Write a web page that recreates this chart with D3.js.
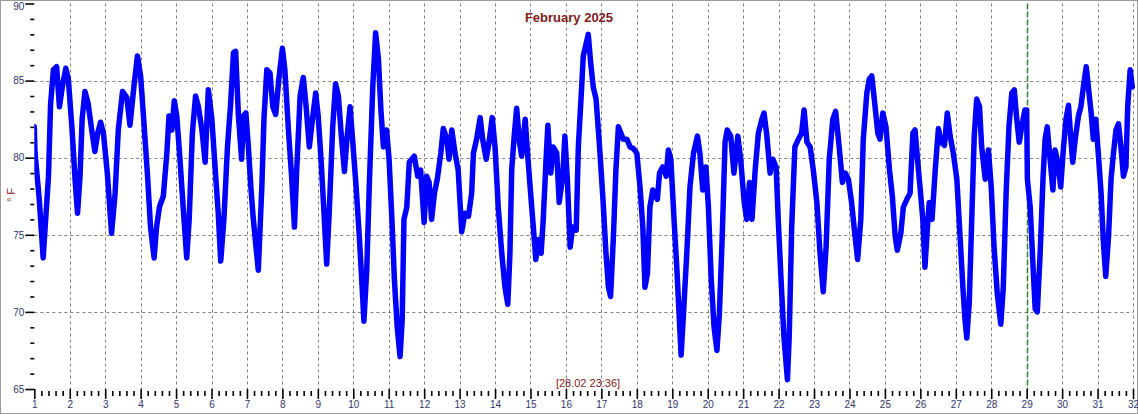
<!DOCTYPE html>
<html><head><meta charset="utf-8">
<script src="https://cdn.jsdelivr.net/npm/d3@7"></script>
<style>
html,body{margin:0;padding:0;background:#fff;}
svg{display:block;font-family:"Liberation Sans",Arial,sans-serif;}
</style></head>
<body>
<svg id="chart" width="1138" height="414"></svg>
<script>
const title = "February 2025";
const yLabel = "° F";
const stampLabel = "[28.02 23:36]";
const markerDay = 29;
const xTickDays = d3.range(1, 33);
const yTickValues = [65, 70, 75, 80, 85, 90];

const days = [
 1.00,1.02,1.14,1.25,1.40,1.46,1.54,1.63,1.71,1.79,1.89,1.96,2.06,2.15,2.22,2.29,2.35,2.43,2.52,2.62,2.71,2.79,2.87,2.95,3.06,3.18,3.28,3.37,3.49,3.61,3.70,3.81,3.91,4.00,4.08,4.19,4.28,4.38,4.45,4.53,4.64,4.74,4.80,4.88,4.95,5.02,5.11,5.20,5.30,5.37,5.46,5.55,5.63,5.73,5.82,5.91,6.01,6.10,6.19,6.26,6.35,6.45,6.54,6.62,6.68,6.76,6.85,6.90,6.97,7.04,7.11,
 7.18,7.32,7.42,7.48,7.56,7.65,7.73,7.81,7.90,8.00,8.07,8.17,8.26,8.34,8.40,8.50,8.59,8.67,8.76,8.86,8.94,9.01,9.09,9.17,9.25,9.32,9.42,9.50,9.58,9.65,9.75,9.82,9.91,9.98,10.08,10.17,10.25,10.30,10.38,10.45,10.55,10.63,10.71,10.78,10.85,10.94,11.01,11.09,11.16,11.24,11.32,11.38,11.43,11.51,11.58,11.65,11.72,11.82,11.90,12.00,12.07,12.14,12.21,12.29,12.37,12.47,12.54,12.64,12.70,12.78,12.87,12.96,13.06,13.15,13.25,13.34,
 13.39,13.48,13.58,13.65,13.75,13.83,13.92,14.00,14.09,14.19,14.28,14.36,14.42,14.47,14.54,14.61,14.69,14.75,14.85,14.91,14.99,15.08,15.15,15.22,15.30,15.36,15.44,15.49,15.57,15.64,15.74,15.81,15.91,15.97,16.04,16.12,16.19,16.29,16.35,16.43,16.49,16.57,16.63,16.70,16.77,16.85,16.94,17.04,17.13,17.20,17.26,17.34,17.41,17.48,17.55,17.62,17.72,17.81,17.90,18.00,18.09,18.17,18.23,18.30,18.37,18.45,18.51,18.58,18.64,18.73,18.83,18.89,18.96,19.05,19.13,19.19,19.25,19.31,19.41,19.50,
 19.60,19.71,19.78,19.86,19.95,20.02,20.10,20.18,20.26,20.33,20.41,20.49,20.55,20.65,20.74,20.85,20.93,21.03,21.10,21.18,21.25,21.34,21.43,21.53,21.59,21.67,21.76,21.84,21.93,21.99,22.07,22.15,22.25,22.30,22.37,22.46,22.56,22.65,22.72,22.80,22.89,22.98,23.08,23.17,23.26,23.34,23.43,23.53,23.61,23.71,23.80,23.88,23.97,24.06,24.14,24.23,24.32,24.39,24.49,24.56,24.63,24.70,24.80,24.86,24.94,25.03,25.13,25.21,25.29,25.35,25.45,25.52,25.62,25.71,25.79,
 25.85,25.92,25.99,26.07,26.13,26.20,26.25,26.33,26.42,26.51,26.58,26.68,26.76,26.84,26.93,27.03,27.12,27.20,27.26,27.31,27.38,27.45,27.52,27.59,27.67,27.73,27.83,27.92,28.00,28.08,28.17,28.27,28.34,28.42,28.50,28.58,28.65,28.72,28.79,28.86,28.95,29.00,29.02,29.10,29.17,29.24,29.30,29.38,29.46,29.52,29.58,29.66,29.74,29.80,29.88,29.96,30.04,30.11,30.18,30.24,30.30,30.37,30.46,30.53,30.60,30.68,30.74,30.82,30.88,30.95,31.02,31.10,31.16,31.23,31.31,31.38,31.45,31.52,31.59,31.66,31.73,31.80,31.85,31.92,31.98
];
const tempF = [
 82.0,80.3,77.3,73.5,78.8,83.5,85.7,85.9,83.3,84.6,85.8,85.1,82.0,78.6,76.4,78.8,82.5,84.3,83.5,81.8,80.4,81.6,82.3,81.6,79.0,75.1,77.7,81.8,84.3,83.9,82.1,84.6,86.6,85.3,82.7,79.0,75.5,73.5,75.5,76.8,77.5,80.3,82.7,81.8,83.7,82.7,79.9,76.8,73.5,76.0,81.6,84.0,83.3,81.8,79.7,84.4,82.5,79.4,76.4,73.3,76.0,80.7,83.5,86.8,86.9,82.7,79.9,82.7,82.9,80.7,78.1,
 76.0,72.7,78.1,82.5,85.7,85.5,83.3,82.8,85.1,87.1,85.7,81.8,78.8,75.5,79.0,84.0,85.2,83.3,80.7,82.7,84.2,82.7,79.9,76.6,73.1,76.4,82.0,84.8,84.0,81.8,79.1,81.2,83.3,81.2,78.1,74.9,71.6,69.4,72.7,78.1,84.6,88.1,86.4,83.1,80.7,81.8,79.9,76.0,72.1,69.0,67.1,69.5,76.0,76.8,79.7,79.9,80.1,78.8,79.2,75.8,78.8,78.4,76.0,77.7,78.6,80.3,81.9,81.2,79.9,81.8,80.3,79.2,75.2,76.4,76.2,77.7,
 80.3,81.2,82.6,81.2,79.9,81.0,82.6,80.7,76.8,73.8,71.6,70.5,73.8,79.2,81.4,83.2,81.0,80.1,82.5,80.5,78.1,75.5,73.4,74.7,73.8,76.0,79.9,82.1,79.0,80.7,80.3,77.1,78.8,81.4,78.6,74.2,75.5,75.3,80.7,84.0,86.6,87.4,88.0,86.1,84.6,83.8,81.0,77.5,73.8,71.6,71.0,74.9,79.2,82.0,81.6,81.2,81.2,80.7,80.6,80.3,78.1,75.5,71.6,72.5,76.8,77.9,77.6,77.3,79.0,79.4,78.8,80.5,79.9,76.0,72.8,70.0,67.2,69.6,73.8,78.1,
 80.3,81.4,80.3,77.9,79.4,76.8,72.1,69.0,67.5,69.9,74.9,81.0,81.8,81.4,79.0,81.4,79.9,77.1,76.0,78.4,76.0,79.2,81.6,82.5,82.9,81.4,79.0,79.9,79.4,76.0,72.1,68.4,65.6,68.4,75.5,80.7,81.2,81.6,83.1,81.0,80.7,79.2,77.1,73.8,71.3,74.2,79.9,82.5,83.0,80.7,78.4,79.0,78.6,77.1,75.3,73.4,76.0,81.2,84.2,85.1,85.3,83.8,81.6,81.2,82.9,82.0,79.2,77.5,74.9,74.0,75.1,76.8,77.3,77.7,81.6,
 81.8,79.9,78.1,76.0,72.9,75.5,77.1,76.0,79.2,81.9,81.0,80.8,82.9,81.4,80.3,78.6,74.9,71.6,69.5,68.3,70.6,76.0,81.4,83.8,83.3,80.7,78.6,80.5,78.1,74.2,71.2,69.2,71.6,77.7,82.0,84.2,84.4,82.5,81.0,82.0,83.1,83.1,78.6,76.8,73.4,70.2,70.0,73.8,78.6,81.2,82.0,79.9,77.9,80.5,79.7,78.1,80.7,82.5,83.4,81.4,79.7,81.2,82.7,83.3,84.6,85.9,84.6,82.9,81.2,82.5,80.3,77.7,74.7,72.3,74.9,78.6,80.3,81.8,82.2,80.7,78.8,79.4,83.3,85.7,84.6
];

const W = 1138, H = 414;
const svg = d3.select("#chart");
const x = d3.scaleLinear().domain([1, 32]).range([34.3, 1133]);
const y = d3.scaleLinear().domain([65, 90]).range([389, 3.5]);

// outer frame
svg.append("rect").attr("x", 0.5).attr("y", 0.5).attr("width", W - 1).attr("height", H - 1)
  .attr("fill", "#fff").attr("stroke", "#9a9a9a");

// grid
const grid = svg.append("g").attr("stroke", "#808080").attr("stroke-width", 1).attr("stroke-dasharray", "3,3");
grid.selectAll("line.v").data(xTickDays.filter(d => d > 1 && d !== markerDay)).join("line")
  .attr("x1", d => Math.round(x(d)) + 0.5).attr("x2", d => Math.round(x(d)) + 0.5)
  .attr("y1", y(90)).attr("y2", y(65));
grid.selectAll("line.h").data(yTickValues.filter(v => v > 65 && v < 90)).join("line")
  .attr("x1", x(1)).attr("x2", x(32))
  .attr("y1", v => Math.round(y(v)) + 0.5).attr("y2", v => Math.round(y(v)) + 0.5);

// marker line
svg.append("line").attr("x1", Math.round(x(markerDay)) + 0.5).attr("x2", Math.round(x(markerDay)) + 0.5)
  .attr("y1", y(90)).attr("y2", y(65))
  .attr("stroke", "#2a7a2a").attr("stroke-width", 1.4).attr("stroke-dasharray", "6,2");

// y axis
const yMajor = d3.axisLeft(y).tickValues(yTickValues).tickSize(9).tickPadding(1).tickFormat(d3.format("d"));
const yMinor = d3.axisLeft(y).tickValues(d3.range(65, 91, 1).filter(v => v % 5 !== 0)).tickSize(4).tickFormat("");
const gyMinor = svg.append("g").attr("transform", `translate(${x(1)},0)`).call(yMinor);
const gy = svg.append("g").attr("transform", `translate(${x(1)},0)`).call(yMajor);
[gy, gyMinor].forEach(g => {
  g.select(".domain").remove();
  g.selectAll(".tick line").attr("stroke", "#000").attr("stroke-width", 1.6);
});
gy.selectAll(".tick text").attr("fill", "#33336b").attr("font-size", "10px")
  .attr("font-family", "'Liberation Sans',Arial,sans-serif")
  .attr("dy", d => d === 90 ? "0.62em" : "0.32em");

// x axis
const xMajor = d3.axisBottom(x).tickValues(xTickDays).tickSize(10).tickPadding(2).tickFormat(d3.format("d"));
const minorDays = [];
for (let d = 1; d < 32; d++) for (let k = 1; k < 5; k++) minorDays.push(d + k * 0.2);
const xMinor = d3.axisBottom(x).tickValues(minorDays).tickSize(5).tickFormat("");
const gxMinor = svg.append("g").attr("transform", `translate(0,${y(65) + 2})`).call(xMinor);
const gx = svg.append("g").attr("transform", `translate(0,${y(65)})`).call(xMajor);
[gx, gxMinor].forEach(g => {
  g.select(".domain").remove();
  g.selectAll(".tick line").attr("stroke", "#000").attr("stroke-width", 1.6);
});
gx.selectAll(".tick text").attr("fill", "#33336b").attr("font-size", "10px")
  .attr("font-family", "'Liberation Sans',Arial,sans-serif");

// data line
const pts = days.slice(0, Math.min(days.length, tempF.length)).map((d, i) => [d, tempF[i]]);
svg.append("defs").append("clipPath").attr("id", "plotclip").append("rect")
  .attr("x", x(1)).attr("y", y(90)).attr("width", x(32) - x(1) + 2).attr("height", y(65) - y(90));
svg.append("path").datum(pts)
  .attr("clip-path", "url(#plotclip)")
  .attr("fill", "none").attr("stroke", "#0000ff").attr("stroke-width", 5.5)
  .attr("stroke-linejoin", "round").attr("stroke-linecap", "round")
  .attr("d", d3.line().x(p => x(p[0])).y(p => y(p[1])));

// title
svg.append("text").attr("x", 569).attr("y", 22).attr("text-anchor", "middle")
  .attr("font-size", "13px").attr("font-weight", "bold").attr("fill", "#7f1a1a").text(title);

// timestamp
svg.append("text").attr("x", 588).attr("y", 387).attr("text-anchor", "middle")
  .attr("font-size", "11px").attr("fill", "#7f1a1a").text(stampLabel);

// y label
svg.append("text").attr("transform", "translate(15,195) rotate(-90)").attr("text-anchor", "middle")
  .attr("font-size", "11px").attr("fill", "#7f1a1a").text(yLabel);
</script>
</body></html>
